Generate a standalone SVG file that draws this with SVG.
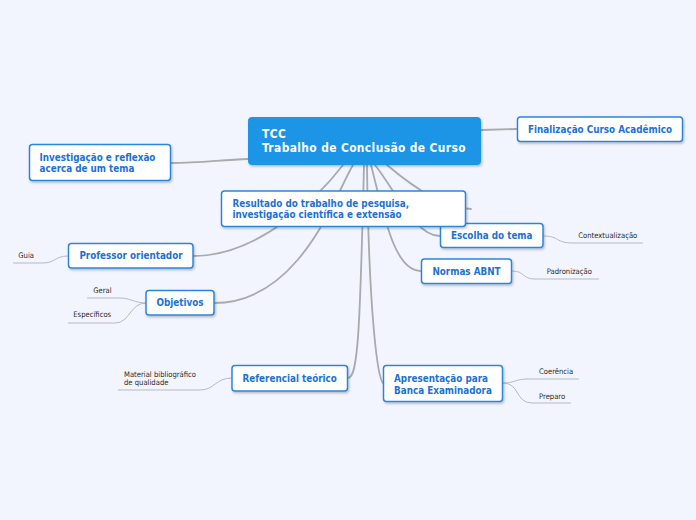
<svg xmlns="http://www.w3.org/2000/svg" width="696" height="520" viewBox="0 0 696 520">
<style>
.bg{fill:#f2f5fd}
.node{fill:#ffffff;stroke:#2c86dd;stroke-width:1.5}
.center{fill:#1a95e6;stroke:#1a95e6;stroke-width:1}
.nt{font-family:"DejaVu Sans Condensed","DejaVu Sans",sans-serif;font-weight:bold;font-size:9.8px;fill:#1c72d4}
.ct{font-family:"DejaVu Sans Condensed","DejaVu Sans",sans-serif;font-weight:bold;font-size:11.9px;letter-spacing:0.38px;fill:#ffffff}
.lt{font-family:"DejaVu Sans Condensed","DejaVu Sans",sans-serif;font-size:7.6px;fill:#2a2a2a}
.main{fill:none;stroke:#a9a9ae;stroke-width:1.8;stroke-linecap:round}
.leaf{fill:none;stroke:#b9b9be;stroke-width:1}
</style>
<defs>
<filter id="sh" x="-10%" y="-20%" width="130%" height="160%">
<feDropShadow dx="1" dy="1.5" stdDeviation="1" flood-color="#000000" flood-opacity="0.25"/>
</filter>
</defs>
<rect class="bg" x="0" y="0" width="696" height="520"/>
<g id="connectors">
<path class="main" d="M 248 159 C 220 160, 200 163, 171 163"/>
<path class="main" d="M 481 130 L 517 129"/>
<path class="main" d="M 343 165 C 320 195, 260 256, 193 256"/>
<path class="main" d="M 353 165 C 335 195, 300 303, 214 303"/>
<path class="main" d="M 387 165 C 400 176, 440 209, 471 209"/>
<path class="main" d="M 375 165 C 395 190, 415 236, 440 236"/>
<path class="main" d="M 371 165 C 385 220, 395 271, 421 271"/>
<path class="main" d="M 364 165 C 360 330, 358 378, 348 378"/>
<path class="main" d="M 367 165 C 369 320, 378 378, 383 383"/>
<path class="leaf" d="M 68 256 C 55 256, 55 263, 43 263 L 13 263"/>
<path class="leaf" d="M 146 303 C 135 303, 130 298, 120 298 L 87 298"/>
<path class="leaf" d="M 146 303 C 130 303, 130 323, 115 323 L 68 323"/>
<path class="leaf" d="M 232 378 C 215 378, 215 390, 200 390 L 118 390"/>
<path class="leaf" d="M 503 383 C 515 383, 515 379, 528 379 L 579 379"/>
<path class="leaf" d="M 503 383 C 520 383, 515 403, 532 403 L 571 403"/>
<path class="leaf" d="M 543 236 C 560 236, 555 243, 573 243 L 643 243"/>
<path class="leaf" d="M 512 271 C 525 271, 522 279, 535 279 L 599 279"/>
</g>
<g id="center">
<rect class="center" x="248.5" y="117.5" width="232" height="47" rx="3" filter="url(#sh)"/>
<text class="ct" x="262" y="137.6">TCC</text>
<text class="ct" x="262" y="151.6">Trabalho de Conclusão de Curso</text>
</g>
<g id="finalizacao">
<rect class="node" x="517.5" y="117" width="165" height="24.5" rx="3" filter="url(#sh)"/>
<text class="nt" x="600" y="133.3" text-anchor="middle">Finalização Curso Acadêmico</text>
</g>
<g id="investigacao">
<rect class="node" x="29.5" y="144.5" width="141" height="36" rx="3" filter="url(#sh)"/>
<text class="nt" x="39.5" y="160.7">Investigação e reflexão</text>
<text class="nt" x="39.5" y="172">acerca de um tema</text>
</g>
<g id="escolha">
<rect class="node" x="440.5" y="223.5" width="102.5" height="24" rx="3" filter="url(#sh)"/>
<text class="nt" x="491.7" y="239" text-anchor="middle">Escolha do tema</text>
</g>
<g id="resultado">
<rect class="node" x="221.5" y="191" width="244" height="35.5" rx="3" filter="url(#sh)"/>
<text class="nt" x="232.5" y="206.7">Resultado do trabalho de pesquisa,</text>
<text class="nt" x="232.5" y="218">investigação científica e extensão</text>
</g>
<g id="professor">
<rect class="node" x="68.5" y="243.5" width="124.5" height="24.5" rx="3" filter="url(#sh)"/>
<text class="nt" x="131" y="259" text-anchor="middle">Professor orientador</text>
</g>
<g id="normas">
<rect class="node" x="421.5" y="259" width="90" height="24.5" rx="3" filter="url(#sh)"/>
<text class="nt" x="466.5" y="274.5" text-anchor="middle">Normas ABNT</text>
</g>
<g id="objetivos">
<rect class="node" x="146" y="290.5" width="68" height="24.5" rx="3" filter="url(#sh)"/>
<text class="nt" x="180" y="306.3" text-anchor="middle">Objetivos</text>
</g>
<g id="referencial">
<rect class="node" x="232" y="365.5" width="115.5" height="25.5" rx="3" filter="url(#sh)"/>
<text class="nt" x="289.7" y="382" text-anchor="middle">Referencial teórico</text>
</g>
<g id="apresentacao">
<rect class="node" x="383.5" y="365.5" width="119" height="36" rx="3" filter="url(#sh)"/>
<text class="nt" x="394" y="382">Apresentação para</text>
<text class="nt" x="394" y="393.5">Banca Examinadora</text>
</g>
<g id="guia"><text class="lt" x="18.3" y="257.5">Guia</text></g>
<g id="geral"><text class="lt" x="93.3" y="292.5">Geral</text></g>
<g id="especificos"><text class="lt" x="73.3" y="317">Específicos</text></g>
<g id="material"><text class="lt" x="124" y="376.7">Material bibliográfico</text><text class="lt" x="124" y="385">de qualidade</text></g>
<g id="coerencia"><text class="lt" x="539" y="374">Coerência</text></g>
<g id="preparo"><text class="lt" x="539" y="398.5">Preparo</text></g>
<g id="contextualizacao"><text class="lt" x="578.3" y="237.7">Contextualização</text></g>
<g id="padronizacao"><text class="lt" x="546.7" y="273.5">Padronização</text></g>
</svg>
